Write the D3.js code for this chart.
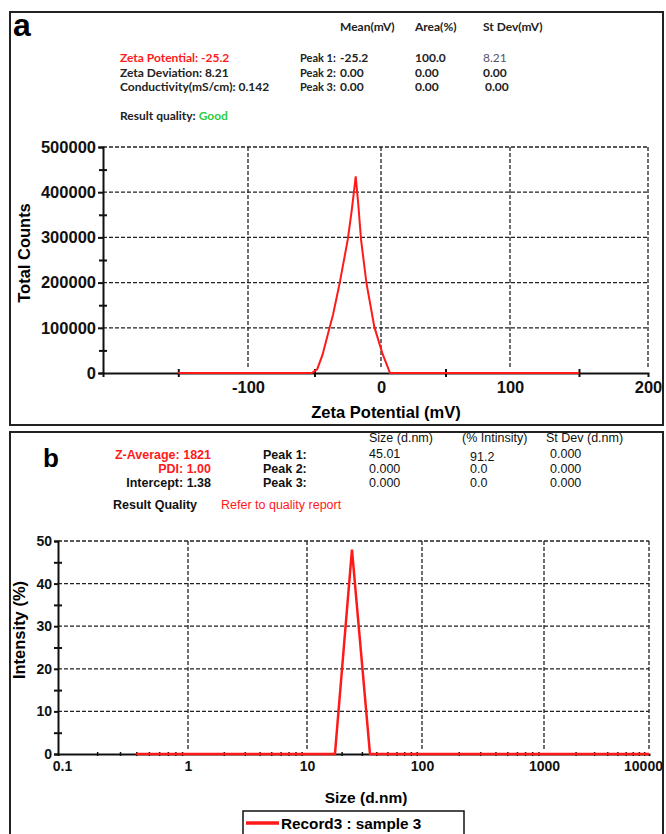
<!DOCTYPE html>
<html>
<head>
<meta charset="utf-8">
<script src="https://cdn.jsdelivr.net/npm/d3@7"></script>
<style>
  body { margin: 0; background: #fff; }
  svg { display: block; }
</style>
</head>
<body>
<div id="chart"></div>
<script>
// ---- data ----
// panel a: zeta potential distribution
var zetaMv     = [-150, -52, -48, -44, -40, -36, -31, -25, -22, -19, -17, -15, -11, -5, 1, 7, 150];
var zetaCounts = [0, 0, 8000, 40000, 85000, 130000, 200000, 295000, 360000, 435000, 370000, 295000, 200000, 102000, 44000, 0, 0];
var zetaTicks  = [-100, 0, 100, 200];
var zetaMinor  = [-150, -50, 50, 150];
var countTicks = [0, 100000, 200000, 300000, 400000, 500000];
var countMinor = [50000, 150000, 250000, 350000, 450000];

// panel b: size distribution (intensity)
var sizeNm       = [0.4, 17.5, 24.6, 35.3, 10000];
var intensityPct = [0, 0, 48, 0, 0];
var sizeTicks    = [0.1, 1, 10, 100, 1000, 10000];
var intTicks     = [0, 10, 20, 30, 40, 50];
var intMinor     = [5, 15, 25, 35, 45];

// result texts
var zetaSummary  = ["Zeta Potential: -25.2", "Zeta Deviation: 8.21", "Conductivity(mS/cm): 0.142"];
var zetaHeaders  = ["Mean(mV)", "Area(%)", "St Dev(mV)"];
var zetaPeaks    = ["Peak 1:", "Peak 2:", "Peak 3:"];
var zetaRows     = [["-25.2", "100.0", "8.21"], ["0.00", "0.00", "0.00"], ["0.00", "0.00", "0.00"]];
var sizeSummary  = ["Z-Average: 1821", "PDI: 1.00", "Intercept: 1.38"];
var sizeHeaders  = ["Size (d.nm)", "(% Intinsity)", "St Dev (d.nm)"];
var sizeRows     = [["45.01", "91.2", "0.000"], ["0.000", "0.0", "0.000"], ["0.000", "0.0", "0.000"]];

var W = 666, H = 834;
var RED = "#ff1a1a";
var svg = d3.select("#chart").append("svg")
    .attr("width", W)
    .attr("height", H)
    .style("font-family", "'Liberation Sans', Arial, sans-serif");

svg.append("rect").attr("width", W).attr("height", H).attr("fill", "#fff");

// panel frames
svg.append("rect").attr("x", 10).attr("y", 12).attr("width", 653).attr("height", 413)
    .attr("fill", "none").attr("stroke", "#222").attr("stroke-width", 2);
svg.append("rect").attr("x", 10).attr("y", 432).attr("width", 653).attr("height", 430)
    .attr("fill", "none").attr("stroke", "#222").attr("stroke-width", 2);

// make tick lines cross the axis line
function crossTicks(g, horiz, size) {
  g.selectAll(".tick line")
      .attr(horiz ? "y1" : "x1", -size)
      .attr(horiz ? "y2" : "x2", size);
}

function styleAxis(g) {
  g.select(".domain").attr("stroke", "#111").attr("stroke-width", 2);
  g.selectAll(".tick line").attr("stroke", "#111").attr("stroke-width", 2);
}

function styleLabels(g, size) {
  g.selectAll("text").style("font-size", size).style("font-weight", "bold")
      .style("font-family", "'Liberation Sans', Arial, sans-serif").attr("fill", "#111");
}

// ================= panel a =================
// piecewise range follows the slightly uneven spacing of the original plot
var xA = d3.scaleLinear().domain([-204, -100, 0, 100, 200]).range([103, 248, 381, 510, 648]);
var yA = d3.scaleLinear().domain([0, 500000]).range([373, 147]);

svg.append("text").attr("x", 13).attr("y", 36)
    .style("font-size", "32px").style("font-weight", "bold").text("a");

var info = svg.append("g").style("font-family", "Lato, 'Open Sans', sans-serif")
    .style("font-size", "12px").style("font-weight", "bold").attr("fill", "#222");

info.selectAll(".sum").data(zetaSummary).enter().append("text")
    .attr("x", 120).attr("y", function(d, i) { return 62 + i * 14.5; })
    .attr("fill", function(d, i) { return i === 0 ? RED : "#222"; })
    .text(function(d) { return d; });

var rq = info.append("text").attr("x", 120).attr("y", 120);
rq.append("tspan").text("Result quality: ");
rq.append("tspan").attr("fill", "#2ecc40").text("Good");

var colA = [340, 415, 483];
info.selectAll(".hdr").data(zetaHeaders).enter().append("text")
    .attr("x", function(d, i) { return colA[i]; }).attr("y", 31)
    .text(function(d) { return d; });
info.selectAll(".pk").data(zetaPeaks).enter().append("text")
    .attr("x", 300).attr("y", function(d, i) { return 62 + i * 14.5; })
    .style("font-size", "11px")
    .text(function(d) { return d; });
zetaRows.forEach(function(row, r) {
  info.selectAll(".row" + r).data(row).enter().append("text")
      .attr("x", function(d, i) { return colA[i] + ((r === 2 && i === 2) ? 2 : 0); })
      .attr("y", 62 + r * 14.5)
      .attr("fill", function(d, i) { return (r === 0 && i === 2) ? "#556" : "#222"; })
      .style("font-weight", function(d, i) { return (r === 0 && i === 2) ? "normal" : "bold"; })
      .text(function(d) { return d; });
});

// grid
var gridA = svg.append("g").attr("stroke", "#222").attr("stroke-width", 1.3)
    .attr("stroke-dasharray", "4,2");
gridA.selectAll(".h").data(countTicks.slice(1)).enter().append("line")
    .attr("x1", xA(-204)).attr("x2", xA(200))
    .attr("y1", function(d) { return yA(d); }).attr("y2", function(d) { return yA(d); });
gridA.selectAll(".v").data(zetaTicks).enter().append("line")
    .attr("x1", function(d) { return xA(d); }).attr("x2", function(d) { return xA(d); })
    .attr("y1", yA(500000)).attr("y2", yA(0) - 5);

// axes
var axA = svg.append("g").attr("transform", "translate(0," + yA(0) + ")")
    .call(d3.axisBottom(xA).tickValues(zetaMinor).tickSize(4).tickFormat(""));
crossTicks(axA, true, 4); styleAxis(axA);
var axAl = svg.append("g").attr("transform", "translate(0," + yA(0) + ")")
    .call(d3.axisBottom(xA).tickValues(zetaTicks).tickSize(0).tickPadding(8)
      .tickFormat(function(d) { return String(d); }));
axAl.select(".domain").remove();
styleLabels(axAl, "16.5px");

var ayA = svg.append("g").attr("transform", "translate(" + xA(-204) + ",0)")
    .call(d3.axisLeft(yA).tickValues(countMinor).tickSize(4).tickFormat(""));
crossTicks(ayA, false, 4); styleAxis(ayA);
var ayAl = svg.append("g").attr("transform", "translate(" + xA(-204) + ",0)")
    .call(d3.axisLeft(yA).tickValues(countTicks).tickSize(5).tickPadding(2)
      .tickFormat(function(d) { return String(d); }));
ayAl.select(".domain").remove(); styleAxis(ayAl);
styleLabels(ayAl, "16.5px");

// zeta curve
var lineA = d3.line()
    .x(function(d, i) { return xA(zetaMv[i]); })
    .y(function(d) { return yA(d); });
svg.append("path").datum(zetaCounts).attr("d", lineA)
    .attr("fill", "none").attr("stroke", RED).attr("stroke-width", 2);

svg.append("text").attr("transform", "translate(30,253) rotate(-90)")
    .attr("text-anchor", "middle").style("font-size", "16.5px").style("font-weight", "bold")
    .text("Total Counts");
svg.append("text").attr("x", 386).attr("y", 418)
    .attr("text-anchor", "middle").style("font-size", "16.5px").style("font-weight", "bold")
    .text("Zeta Potential (mV)");

// ================= panel b =================
var xB = d3.scaleLog().domain(sizeTicks).range([58, 188, 307, 422, 544, 649]);
var yB = d3.scaleLinear().domain([0, 50]).range([754, 541]);

svg.append("text").attr("x", 43).attr("y", 467)
    .style("font-size", "26px").style("font-weight", "bold").text("b");

var infoB = svg.append("g").style("font-size", "12.5px").attr("fill", "#111");
infoB.selectAll(".sum").data(sizeSummary).enter().append("text")
    .attr("x", 211).attr("y", function(d, i) { return 459 + i * 14; })
    .attr("text-anchor", "end").style("font-weight", "bold")
    .attr("fill", function(d, i) { return i < 2 ? RED : "#111"; })
    .text(function(d) { return d; });
infoB.selectAll(".pk").data(zetaPeaks).enter().append("text")
    .attr("x", 263).attr("y", function(d, i) { return 459 + i * 14; })
    .style("font-weight", "bold").text(function(d) { return d; });
var colB = [369, 462, 546];
infoB.selectAll(".hdr").data(sizeHeaders).enter().append("text")
    .attr("x", function(d, i) { return colB[i]; }).attr("y", 442)
    .text(function(d) { return d; });
var colBv = [369, 470, 550];
sizeRows.forEach(function(row, r) {
  infoB.selectAll(".row" + r).data(row).enter().append("text")
      .attr("x", function(d, i) { return colBv[i]; })
      .attr("y", function(d, i) { return 458 + r * 14.5 + ((r === 0 && i === 1) ? 3 : 0); })
      .text(function(d) { return d; });
});
infoB.append("text").attr("x", 113).attr("y", 509).style("font-weight", "bold").text("Result Quality");
infoB.append("text").attr("x", 221).attr("y", 509).attr("fill", RED).text("Refer to quality report");

// grid
var gridB = svg.append("g").attr("stroke", "#222").attr("stroke-width", 1.3)
    .attr("stroke-dasharray", "4,2");
gridB.selectAll(".h").data(intTicks.slice(1)).enter().append("line")
    .attr("x1", xB(0.1)).attr("x2", xB(10000))
    .attr("y1", function(d) { return yB(d); }).attr("y2", function(d) { return yB(d); });
gridB.selectAll(".v").data(sizeTicks.slice(1)).enter().append("line")
    .attr("x1", function(d) { return xB(d); }).attr("x2", function(d) { return xB(d); })
    .attr("y1", yB(50)).attr("y2", yB(0) - 5);

// log minor ticks
var sizeMinor = [];
sizeTicks.slice(0, -1).forEach(function(dec) {
  for (var k = 2; k <= 9; k++) sizeMinor.push(dec * k);
});
var axB = svg.append("g").attr("transform", "translate(0," + yB(0) + ")")
    .call(d3.axisBottom(xB).tickValues(sizeMinor).tickSize(2).tickFormat(""));
crossTicks(axB, true, 2); styleAxis(axB);
axB.selectAll(".tick line").attr("stroke-width", 1.5);
var axBl = svg.append("g").attr("transform", "translate(0," + yB(0) + ")")
    .call(d3.axisBottom(xB).tickValues(sizeTicks).tickSize(0).tickPadding(7)
      .tickFormat(function(d) { return String(d); }));
axBl.select(".domain").remove();
styleLabels(axBl, "14px");
axBl.selectAll("text").attr("dx", function(d) { return d === 10000 ? -6 : (d === 0.1 ? 4 : 0); });

var ayB = svg.append("g").attr("transform", "translate(" + xB(0.1) + ",0)")
    .call(d3.axisLeft(yB).tickValues(intMinor).tickSize(4).tickFormat(""));
crossTicks(ayB, false, 4); styleAxis(ayB);
var ayBl = svg.append("g").attr("transform", "translate(" + xB(0.1) + ",0)")
    .call(d3.axisLeft(yB).tickValues(intTicks).tickSize(4).tickPadding(2));
ayBl.select(".domain").remove(); styleAxis(ayBl);
styleLabels(ayBl, "14px");

// size curve
var lineB = d3.line()
    .x(function(d, i) { return xB(sizeNm[i]); })
    .y(function(d) { return yB(d); });
svg.append("path").datum(intensityPct).attr("d", lineB)
    .attr("fill", "none").attr("stroke", RED).attr("stroke-width", 2.5);

svg.append("text").attr("transform", "translate(25,630) rotate(-90)")
    .attr("text-anchor", "middle").style("font-size", "16.5px").style("font-weight", "bold")
    .text("Intensity (%)");
svg.append("text").attr("x", 366).attr("y", 803)
    .attr("text-anchor", "middle").style("font-size", "15.5px").style("font-weight", "bold")
    .text("Size (d.nm)");

// legend
var leg = svg.append("g");
leg.append("rect").attr("x", 243).attr("y", 811).attr("width", 221).attr("height", 40)
    .attr("fill", "#fff").attr("stroke", "#111").attr("stroke-width", 1.5);
leg.append("line").attr("x1", 246).attr("x2", 279).attr("y1", 823).attr("y2", 823)
    .attr("stroke", RED).attr("stroke-width", 3.5);
leg.append("text").attr("x", 281).attr("y", 829)
    .style("font-size", "15.3px").style("font-weight", "bold").text("Record3 : sample 3");
</script>
</body>
</html>
